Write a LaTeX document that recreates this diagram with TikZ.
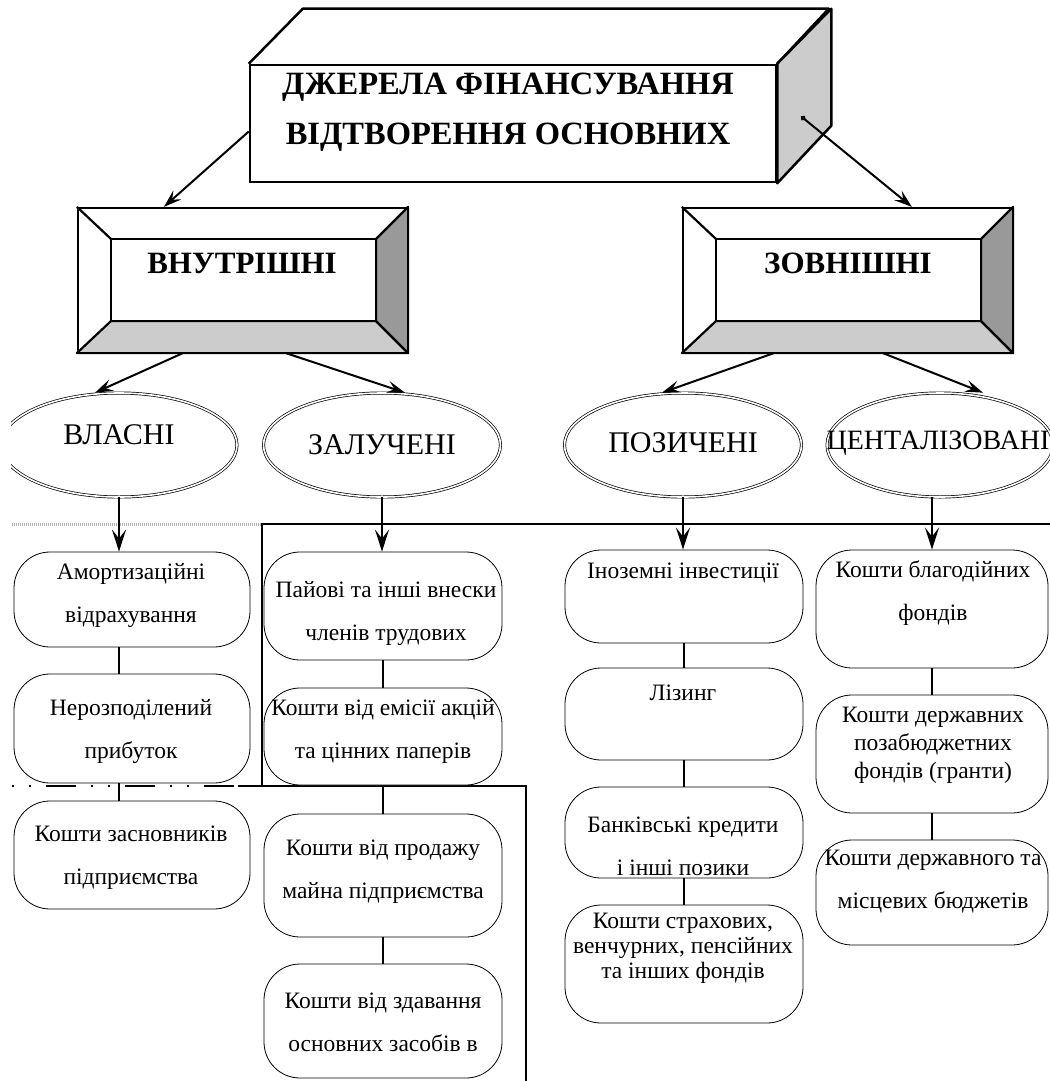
\documentclass[tikz,border=0pt]{standalone}
\usepackage{fontspec}
\setmainfont{Liberation Serif}
\usetikzlibrary{arrows.meta,calc,shapes.geometric}

\tikzset{
  box/.style={draw, fill=white, line width=0.8pt, rounded corners=36pt, inner sep=0pt},
  txt/.style={align=center, inner sep=0pt, font=\fontsize{23.5}{43}\selectfont},
  oval/.style={ellipse, draw, double, line width=0.7pt, double distance=1.6pt, minimum height=104pt, inner sep=0pt},
  ovaltxt/.style={inner sep=0pt, font=\fontsize{30}{32}\selectfont},
  head/.style={align=center, inner sep=0pt, font=\bfseries\fontsize{31}{50}\selectfont},
  frame/.style={line width=2.8pt},
  link/.style={line width=2.8pt},
  down/.style={line width=2.8pt, -{Stealth[length=22pt,width=14pt,inset=9pt]}},
  slant/.style={line width=2pt, -{Stealth[length=18pt,width=12pt,inset=7pt]}},
  bevel/.style={draw, line width=2.2pt, minimum width=329pt, minimum height=144pt, inner sep=0pt},
}

\begin{document}
\begin{tikzpicture}[x=1pt,y=-1pt]
\useasboundingbox (0,0) rectangle (1049,1081);

% top block
\node[draw, line width=2.5pt, minimum width=526pt, minimum height=117pt, inner sep=0pt] (src) at (513,123.5) {};
\draw[line width=2.5pt, line join=round] (src.north west) -- ++(54,-55) -- ++(526,0) -- (src.north east);
\filldraw[fill=gray!40, line width=2.5pt, line join=round] (src.north east) -- ++(54,-55) -- ++(0,117) -- (src.south east) -- cycle;
\node[head, font=\bfseries\fontsize{32.5}{50}\selectfont] (srct) at (508,112) {ДЖЕРЕЛА ФІНАНСУВАННЯ\\ВІДТВОРЕННЯ ОСНОВНИХ};

% second level
\node[bevel] (vnut) at (242.5,280) {};
\node[bevel] (zovn) at (847.5,280) {};
\foreach \b in {vnut,zovn} {
  \coordinate (\b-a) at ($(\b.north west)+(34,32)$);
  \coordinate (\b-b) at ($(\b.north east)+(-32,32)$);
  \coordinate (\b-c) at ($(\b.south east)+(-32,-32)$);
  \coordinate (\b-d) at ($(\b.south west)+(34,-32)$);
  \filldraw[fill=gray!40, line width=2.2pt, line join=round] (\b.south west) -- (\b-d) -- (\b-c) -- (\b.south east) -- cycle;
  \filldraw[fill=gray!80, line width=2.2pt, line join=round] (\b.south east) -- (\b-c) -- (\b-b) -- (\b.north east) -- cycle;
  \draw[line width=2.2pt] (\b-a) rectangle (\b-c);
  \draw[line width=2.2pt] (\b.north west) -- (\b-a);
}
\node[head] (vnutt) at (242,263) {ВНУТРІШНІ};
\node[head] (zovnt) at (848,263) {ЗОВНІШНІ};

\draw[slant] ([yshift=-8pt]src.west) -- ([xshift=87pt]vnut.north west);
\draw[slant, {Circle[length=5pt]}-{Stealth[length=18pt,width=12pt,inset=7pt]}] ([xshift=24pt,yshift=7pt]src.east) -- ([xshift=230pt]zovn.north west);

% third level
\begin{scope}
  \clip (11,380) rectangle (270,515);
  \node[oval, minimum width=236pt] (vlas) at (119,445) {};
\end{scope}
\node[oval, minimum width=237pt] (zal) at (382,445) {};
\node[oval, minimum width=237pt] (poz) at (683,445) {};
\node[oval, minimum width=226pt] (cent) at (940,445) {};
\node[ovaltxt] (vlast) at (119,435) {ВЛАСНІ};
\node[ovaltxt] (zalt) at (382,445) {ЗАЛУЧЕНІ};
\node[ovaltxt] (pozt) at (683,443) {ПОЗИЧЕНІ};
\node[ovaltxt, font=\fontsize{28}{30}\selectfont] (centt) at (938,443) {ЦЕНТАЛІЗОВАНІ};

\draw[slant] ([xshift=106pt]vnut.south west) -- ([xshift=-24pt]vlas.north);
\draw[slant] ([xshift=209pt]vnut.south west) -- ([xshift=23pt]zal.north);
\draw[slant] ([xshift=92pt]zovn.south west) -- ([xshift=-21pt]poz.north);
\draw[slant] ([xshift=201pt]zovn.south west) -- ([xshift=43pt]cent.north);

% group lines
\draw[gray!60, line width=3pt, dash pattern=on 1pt off 1pt] (12,524) -- (262,524);
\draw[frame] (1052,524) -- (262,524) -- (262,786);
\draw[frame, dash pattern=on 2pt off 15pt on 2pt off 15pt on 30pt off 15pt] (12,786) -- (238,786);
\draw[frame] (238,786) -- (526,786) -- (526,1085);

% sources
\node[box, minimum width=236pt, minimum height=95pt] (a1) at (132,599.5) {};
\node[box, minimum width=236pt, minimum height=109pt] (a2) at (132,728.5) {};
\node[box, minimum width=236pt, minimum height=108pt] (a3) at (132,855) {};
\node[box, minimum width=238pt, minimum height=108pt] (b1) at (383,606) {};
\node[box, minimum width=238pt, minimum height=97pt] (b2) at (383,736.5) {};
\node[box, minimum width=238pt, minimum height=123pt] (b3) at (383,875.5) {};
\node[box, minimum width=238pt, minimum height=114pt] (b4) at (383,1021) {};
\node[box, minimum width=238pt, minimum height=93pt] (c1) at (684,596.5) {};
\node[box, minimum width=238pt, minimum height=92pt] (c2) at (684,714) {};
\node[box, minimum width=238pt, minimum height=91pt] (c3) at (684,832.5) {};
\node[box, minimum width=238pt, minimum height=118pt] (c4) at (684,964) {};
\node[box, minimum width=232pt, minimum height=118pt] (d1) at (932,609) {};
\node[box, minimum width=232pt, minimum height=118pt] (d2) at (932,754) {};
\node[box, minimum width=232pt, minimum height=105pt] (d3) at (932,892.5) {};

\node[txt] (a1t) at (131,595) {Амортизаційні\\відрахування};
\node[txt] (a2t) at (131,731) {Нерозподілений\\прибуток};
\node[txt] (a3t) at (131,858) {Кошти засновників\\підприємства};
\node[txt] (b1t) at (386,613) {Пайові та інші внески\\членів трудових};
\node[txt] (b2t) at (383,731) {Кошти від емісії акцій\\та цінних паперів};
\node[txt] (b3t) at (383,872) {Кошти від продажу\\майна підприємства};
\node[txt] (b4t) at (383,1022) {Кошти від здавання\\основних засобів в};
\node[txt] (c1t) at (683,573) {Іноземні інвестиції};
\node[txt] (c2t) at (683,693) {Лізинг};
\node[txt] (c3t) at (683,846) {Банківські кредити\\і інші позики};
\node[txt, font=\fontsize{23.5}{25}\selectfont] (c4t) at (683,948) {Кошти страхових,\\венчурних, пенсійних\\та інших фондів};
\node[txt] (d1t) at (933,593) {Кошти благодійних\\фондів};
\node[txt, font=\fontsize{23.5}{28}\selectfont] (d2t) at (933,745) {Кошти державних\\позабюджетних\\фондів (гранти)};
\node[txt] (d3t) at (933,882) {Кошти державного та\\місцевих бюджетів};

% arrows into the sources
\draw[down] (vlas.south) -- (vlas.south |- a1.north);
\draw[down] (zal.south) -- (zal.south |- b1.north);
\draw[down] (poz.south) -- (poz.south |- c1.north);
\draw[down] (cent.south -| d1.north) -- (d1.north);

\draw[link] (vlas.south |- a1.south) -- (vlas.south |- a2.north);
\draw[link] (vlas.south |- a2.south) -- (vlas.south |- a3.north);
\draw[link] (b1) -- (b2);
\draw[link] (b2) -- (b3);
\draw[link] (b3) -- (b4);
\draw[link] (c1) -- (c2);
\draw[link] (c2) -- (c3);
\draw[link] (c3) -- (c4);
\draw[link] (d1) -- (d2);
\draw[link] (d2) -- (d3);
\end{tikzpicture}
\end{document}
